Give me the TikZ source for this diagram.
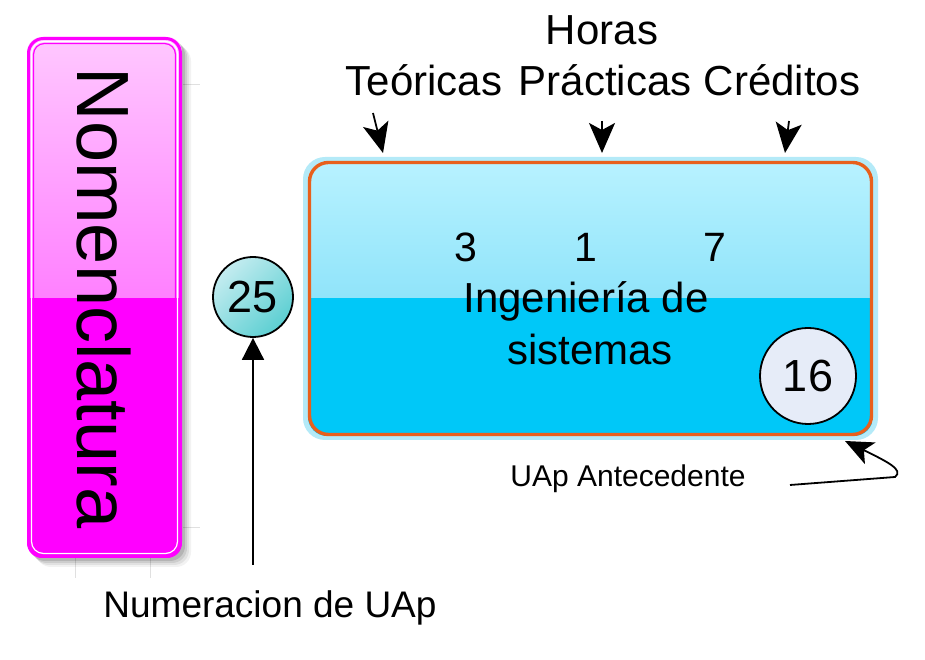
\documentclass[tikz,border=0pt]{standalone}
\usepackage{fontspec}
\setmainfont{Liberation Sans}
\usetikzlibrary{arrows.meta}
\definecolor{nomarriba}{HTML}{FFC8FF}
\definecolor{nommedio}{HTML}{FF80FF}
\definecolor{nomabajo}{HTML}{FF00FF}
\definecolor{uaparriba}{HTML}{B8F2FF}
\definecolor{uapmedio}{HTML}{90E4FA}
\definecolor{uapabajo}{HTML}{00C8F8}
\definecolor{uapborde}{HTML}{E8601C}
\definecolor{uapfuera}{HTML}{B4EAF8}
\definecolor{circclaro}{HTML}{C4ECF0}
\definecolor{circoscuro}{HTML}{5CCFD2}
\definecolor{circlila}{HTML}{E6ECF8}
\begin{document}
\begin{tikzpicture}[x=1pt, y=1pt,
  texto/.style={inner sep=0pt, anchor=base},
  numero/.style={draw, circle, line width=1.8pt, inner sep=0pt},
  flecha/.style={line width=1.8pt, -{Stealth[length=30pt, width=26pt, inset=7pt]}},
  flechados/.style={line width=1.8pt, -{Triangle[length=22pt, width=22pt]}}]
\useasboundingbox (0,0) rectangle (925,660);
\draw[black!12, line width=0.8pt] (183,576) -- (200,576) (183,133) -- (200,133) (75,102) -- (75,82) (150,102) -- (150,82);
\foreach \d/\o in {9/0.05, 7/0.07, 5/0.09, 3/0.12}
  \fill[black, opacity=\o, rounded corners=15pt] ({27+\d},{102-\d}) rectangle ({182+\d},{623-\d});
\begin{scope}
\clip[rounded corners=15pt] (27,102) rectangle (182,623);
\shade[top color=nomarriba, bottom color=nommedio] (27,362) rectangle (182,623);
\fill[nomabajo] (27,102) rectangle (182,362);
\end{scope}
\draw[nomabajo, line width=3pt, rounded corners=15pt] (28.5,103.5) rectangle (180.5,621.5);
\draw[white, line width=1.2pt, rounded corners=12pt] (31.5,106.5) rectangle (177.5,618.5);
\draw[nomabajo, line width=1.2pt, rounded corners=11pt] (33.5,108.5) rectangle (175.5,616.5);
\node[inner sep=0pt, rotate=-90, font=\fontsize{74}{80}\selectfont] (nomen) at (104,362) {Nomenclatura};
\fill[uapfuera, rounded corners=22pt] (303,220) rectangle (878,503);
\begin{scope}
\clip[rounded corners=19pt] (308,224) rectangle (873,499);
\shade[top color=uaparriba, bottom color=uapmedio] (308,362) rectangle (873,499);
\fill[uapabajo] (308,224) rectangle (873,362);
\end{scope}
\draw[uapborde, line width=3.4pt, rounded corners=19pt] (309.5,225.5) rectangle (871.5,497.5);
\node[texto, font=\fontsize{42}{50}\selectfont] (horas) at (602,615) {Horas};
\node[texto, font=\fontsize{42}{50}\selectfont] (teoricas) at (424,564) {Teóricas};
\node[texto, font=\fontsize{42}{50}\selectfont] (practicas) at (605,564) {Prácticas};
\node[texto, font=\fontsize{42}{50}\selectfont] (creditos) at (782,564) {Créditos};
\coordinate (teo1) at (373,547);
\coordinate (teo2) at (383,507);
\coordinate (pra1) at (602,539);
\coordinate (pra2) at (602,507);
\coordinate (cre1) at (789,539);
\coordinate (cre2) at (785,507);
\draw[flecha] (teo1) -- (teo2);
\draw[flecha] (pra1) -- (pra2);
\draw[flecha] (cre1) -- (cre2);
\node[texto, font=\fontsize{41}{48}\selectfont] (ht) at (466,398) {3};
\node[texto, font=\fontsize{41}{48}\selectfont] (hp) at (586,398) {1};
\node[texto, font=\fontsize{41}{48}\selectfont] (cr) at (715,398) {7};
\node[texto, font=\fontsize{42}{50}\selectfont] (ing) at (586,347) {Ingeniería de};
\node[texto, font=\fontsize{42}{50}\selectfont] (sis) at (590,295) {sistemas};
\node[numero, fill=circlila, minimum size=96pt, font=\fontsize{45}{50}\selectfont] (ante) at (808,284) {16};
\node[numero, left color=circclaro, right color=circoscuro, shading angle=45, minimum size=80pt, font=\fontsize{45}{50}\selectfont] (num) at (253,363) {25};
\node[texto, font=\fontsize{37}{44}\selectfont] (numeracion) at (270,42) {Numeracion de UAp};
\coordinate (numini) at (253,95);
\draw[flechados] (numini) -- (num.south);
\node[texto, font=\fontsize{30}{36}\selectfont] (antecedente) at (628,173) {UAp Antecedente};
\coordinate (antini) at (790,175);
\coordinate (antmed) at (895,183);
\coordinate (antfin) at (845,219);
\draw[line width=1.8pt, -{Stealth[length=28pt, width=24pt, inset=7pt]}] (antini) -- (antmed) .. controls (904,190) and (888,198) .. (antfin);
\end{tikzpicture}
\end{document}
